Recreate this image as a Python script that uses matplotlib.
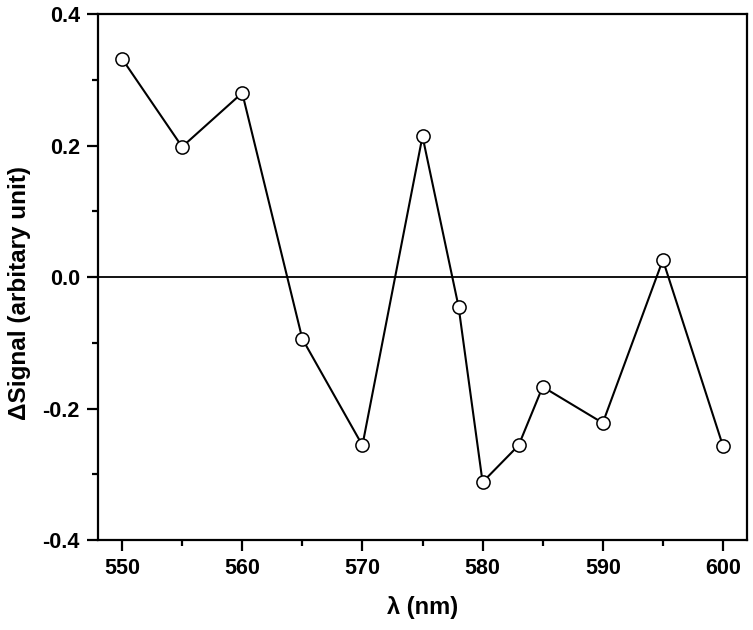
import matplotlib
matplotlib.use("Agg")
import matplotlib.pyplot as plt
from matplotlib.ticker import MultipleLocator

# wavelength (nm) and signal change
wavelength = [550, 555, 560, 565, 570, 575, 578, 580, 583, 585, 590, 595, 600]
signal = [0.332, 0.198, 0.280, -0.094, -0.256, 0.214, -0.045,
          -0.312, -0.256, -0.167, -0.222, 0.026, -0.257]

plt.rcParams['font.family'] = ['Liberation Sans', 'DejaVu Sans']
plt.rcParams['font.weight'] = 'bold'

fig = plt.figure(figsize=(7.53, 6.3), dpi=100)
ax = fig.add_axes([98 / 753, 1 - 540 / 630, (747 - 98) / 753, (540 - 14) / 630])

ax.axhline(0, color='black', lw=1.3, zorder=1)
ax.plot(wavelength, signal, color='black', lw=1.5, marker='o', ms=9.5,
        mfc='white', mec='black', mew=1.1, zorder=3)

ax.set_xlim(548, 602)
ax.set_ylim(-0.4, 0.4)
ax.xaxis.set_major_locator(MultipleLocator(10))
ax.xaxis.set_minor_locator(MultipleLocator(5))
ax.yaxis.set_major_locator(MultipleLocator(0.2))
ax.yaxis.set_minor_locator(MultipleLocator(0.1))
ax.yaxis.set_major_formatter(plt.FuncFormatter(lambda v, p: f"{v:.1f}"))

for s in ax.spines.values():
    s.set_linewidth(1.6)
ax.tick_params(which='major', direction='out', length=8, width=1.6, labelsize=15.5, pad=5)
ax.tick_params(which='minor', direction='out', length=4, width=1.6)
for lab in ax.get_xticklabels() + ax.get_yticklabels():
    lab.set_fontweight('bold')

ax.set_xlabel("λ (nm)", fontsize=17, fontweight='bold', labelpad=12)
ax.set_ylabel("ΔSignal (arbitary unit)", fontsize=17.5, fontweight='bold')
ax.yaxis.set_label_coords(-0.104, 0.47)

fig.savefig("out.png", dpi=100)
